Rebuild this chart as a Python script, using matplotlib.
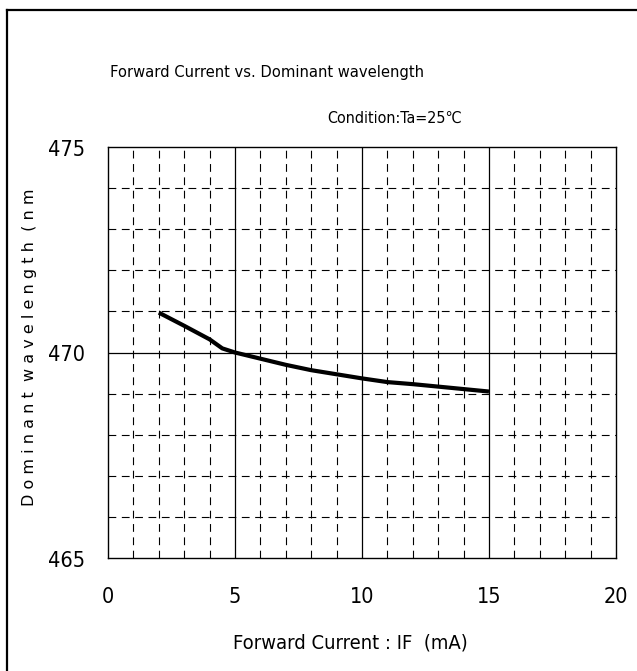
import numpy as np
import matplotlib
matplotlib.use("Agg")
import matplotlib.pyplot as plt
from matplotlib.lines import Line2D

# Donnees
current_ma = [2, 3, 4, 4.5, 5, 6, 7, 8, 9, 10, 11, 12, 13, 14, 15]
wavelength_nm = [470.97, 470.65, 470.32, 470.10, 470.00, 469.85, 469.70, 469.57,
                 469.47, 469.37, 469.28, 469.23, 469.17, 469.11, 469.05]

x_ticks = [0, 5, 10, 15, 20]
y_ticks = [465, 470, 475]
x_minor = [v for v in range(1, 20) if v % 5 != 0]
y_minor = [466, 467, 468, 469, 471, 472, 473, 474]

fig = plt.figure(figsize=(6.37, 6.71), dpi=100)
ax = fig.add_axes([108 / 637, 1 - 558 / 671, 508 / 637, 411 / 671])

# Cadre exterieur
fig.add_artist(Line2D([7 / 637, 7 / 637], [0, 1 - 10 / 671], transform=fig.transFigure,
                      color="black", lw=1.6))
fig.add_artist(Line2D([7 / 637, 1], [1 - 10 / 671, 1 - 10 / 671], transform=fig.transFigure,
                      color="black", lw=1.6))

# Grille
dash = (0, (7, 5))
ax.vlines(x_minor, 465, 475, colors="black", lw=0.8, linestyles=[dash])
ax.hlines(y_minor, 0, 20, colors="black", lw=0.8, linestyles=[dash])
ax.vlines(x_ticks[1:-1], 465, 475, colors="black", lw=0.9)
ax.hlines([470], 0, 20, colors="black", lw=0.9)

ax.plot(current_ma, wavelength_nm, color="black", lw=3.0, solid_capstyle="butt")

ax.set_xlim(0, 20)
ax.set_ylim(465, 475)
ax.set_xticks(x_ticks)
ax.set_yticks(y_ticks)
ax.set_yticklabels([])
ax.tick_params(length=0, labelsize=15.5)
ax.tick_params(axis="x", pad=21)
for lab in ax.get_xticklabels():
    lab.set_fontstretch("condensed")

for v in y_ticks:
    ax.text(-0.045, v - 0.07, str(v), transform=ax.get_yaxis_transform(),
            ha="right", va="center", fontsize=15.5, fontstretch="condensed")
for s in ax.spines.values():
    s.set_linewidth(1.0)

txt = dict(ha="center", va="center", fontstretch="condensed")
fig.text(267 / 637, 1 - 73 / 671, "Forward Current vs. Dominant wavelength",
         fontsize=11.8, **txt)
fig.text(395 / 637, 1 - 118 / 671, "Condition:Ta=25\u2103", fontsize=11.5, **txt)
fig.text(350 / 637, 1 - 643 / 671, "Forward Current : IF  (mA)", fontsize=14.5, **txt)
fig.text(30 / 637, 1 - 347 / 671, "D o m i n a n t  w a v e l e n g t h  ( n m",
         ha="center", va="center", rotation=90, fontsize=11.5)

fig.savefig("out.png", dpi=100)
